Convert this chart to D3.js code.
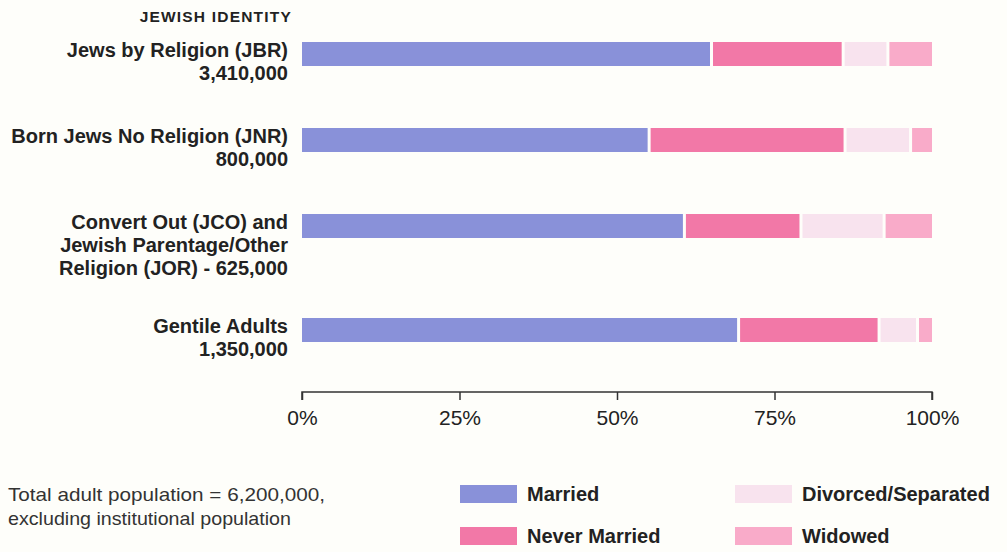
<!DOCTYPE html>
<html><head><meta charset="utf-8">
<script src="https://cdn.jsdelivr.net/npm/d3@7"></script>
<style>body{margin:0;background:#fefefa;}svg{display:block;}</style>
</head><body>
<svg id="c" width="1007" height="552"></svg>
<script>
const categories = [
  ["Jews by Religion (JBR)", "3,410,000"],
  ["Born Jews No Religion (JNR)", "800,000"],
  ["Convert Out (JCO) and", "Jewish Parentage/Other", "Religion (JOR) - 625,000"],
  ["Gentile Adults", "1,350,000"]
];
const seriesNames = ["Married", "Never Married", "Divorced/Separated", "Widowed"];
const married      = [65.0, 55.1, 60.7, 69.3];
const neverMarried = [20.9, 31.1, 18.5, 22.3];
const divorced     = [7.1, 10.4, 13.2, 6.1];
const widowed      = [7.0, 3.4, 7.6, 2.3];
const tickValues = [0, 25, 50, 75, 100];
const colors = ["#8991d9", "#f278a7", "#f8e3ee", "#f9abc9"];

const svg = d3.select("#c");
const font = "'Liberation Sans', Arial, sans-serif";
const x = d3.scaleLinear().domain([0, 100]).range([302, 932]);
const barTops = [42, 128, 214, 318];
const barH = 24;

const rows = categories.map((c, i) => ({
  label: c, vals: [married[i], neverMarried[i], divorced[i], widowed[i]]
}));

svg.append("text").attr("x", 292).attr("y", 22).attr("text-anchor", "end")
  .attr("font-family", font).attr("font-weight", "bold").attr("font-size", 15.5)
  .attr("letter-spacing", 1.2).attr("fill", "#222").text("JEWISH IDENTITY");

rows.forEach((r, i) => {
  let acc = 0;
  const g = svg.append("g");
  r.vals.forEach((v, j) => {
    const x0 = x(acc), x1 = x(acc + v);
    acc += v;
    g.append("rect")
      .attr("x", x0 + (j > 0 ? 1.5 : 0))
      .attr("y", barTops[i])
      .attr("width", x1 - x0 - (j > 0 ? 1.5 : 0) - (j < 3 ? 1.5 : 0))
      .attr("height", barH)
      .attr("fill", colors[j]);
  });
  const t = svg.append("text").attr("text-anchor", "end")
    .attr("font-family", font).attr("font-weight", "bold").attr("font-size", 20)
    .attr("fill", "#222");
  r.label.forEach((line, k) => {
    t.append("tspan").attr("x", 288).attr("y", barTops[i] + 15 + k * 23).text(line);
  });
});

const axis = d3.axisBottom(x).tickValues(tickValues).tickSize(8).tickSizeOuter(0)
  .tickFormat(d => d + "%");
const ag = svg.append("g").attr("transform", "translate(0,392)").call(axis);
ag.select(".domain").attr("stroke", "#333").attr("stroke-width", 1.5).attr("d", `M${x(0)},8V0H${x(100)}V8`);
ag.selectAll(".tick line").attr("stroke", "#333").attr("stroke-width", 1.5).attr("y2", 8);
ag.selectAll(".tick text").attr("font-family", font).attr("font-size", 21)
  .attr("fill", "#222").attr("dy", "0").attr("y", 33);

const note = svg.append("text").attr("font-family", font)
  .attr("font-size", 19).attr("fill", "#333");
note.append("tspan").attr("x", 8).attr("y", 501).attr("textLength", 317).attr("lengthAdjust", "spacingAndGlyphs").text("Total adult population = 6,200,000,");
note.append("tspan").attr("x", 8).attr("y", 525).attr("textLength", 283).attr("lengthAdjust", "spacingAndGlyphs").text("excluding institutional population");

const legendPos = [[460, 485], [460, 527], [735, 485], [735, 527]];
seriesNames.forEach((s, j) => {
  const [lx, ly] = legendPos[j];
  svg.append("rect").attr("x", lx).attr("y", ly).attr("width", 57).attr("height", 18).attr("fill", colors[j]);
  svg.append("text").attr("x", lx + 67).attr("y", ly + 16).attr("font-family", font)
    .attr("font-weight", "bold").attr("font-size", 20).attr("fill", "#222").text(s);
});
</script>
</body></html>
